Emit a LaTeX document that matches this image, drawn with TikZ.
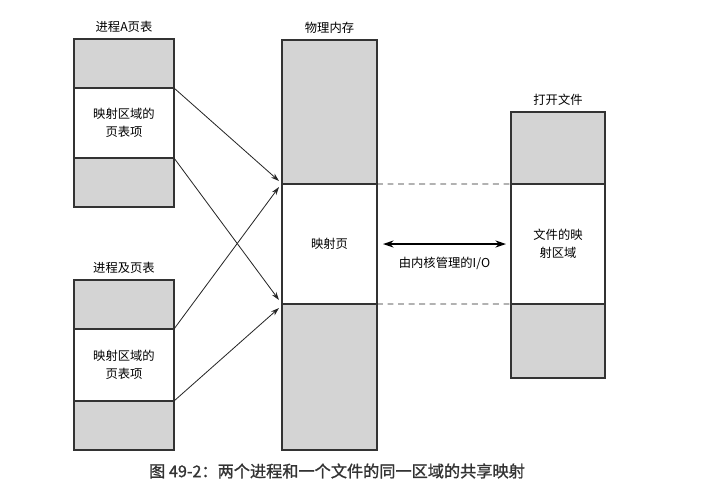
\documentclass[tikz,border=0pt]{standalone}
\usepackage{fontspec}
\setmainfont{Noto Sans CJK SC}
\newfontfamily\capfont[FakeBold=1.2]{Noto Sans CJK SC}
\usetikzlibrary{arrows.meta,positioning,calc}

\begin{document}
\begin{tikzpicture}[x=0.03cm,y=-0.03cm,
  seg/.style={draw=black!80,line width=1pt,outer sep=0pt,inner sep=0pt,minimum width=3cm,align=center,font=\fontsize{10.5}{15.5}\selectfont},
  shade/.style={seg,fill=black!17},
  title/.style={font=\fontsize{10.5}{12}\selectfont,inner sep=1pt},
  arr/.style={-{Stealth[length=7pt,width=4.5pt]},line width=0.7pt,black!85},
  ioarr/.style={{Stealth[length=9pt,width=6pt]}-{Stealth[length=9pt,width=6pt]},line width=1.4pt},
  dashline/.style={dashed,dash pattern=on 5pt off 4pt,line width=0.6pt,black!85},
  node distance=0pt
]
\useasboundingbox (0,0) rectangle (709,500);

% process A
\node[shade,minimum height=1.47cm,anchor=north] (pa1) at (124,39) {};
\node[seg,minimum height=2.1cm,below=of pa1] (pa2) {映射区域的\\页表项};
\node[shade,minimum height=1.47cm,below=of pa2] (pa3) {};
\node[title,above=1.6mm of pa1] (ta) {进程A页表};

% process B
\node[shade,minimum height=1.47cm,anchor=north] (pb1) at (124,280) {};
\node[seg,minimum height=2.16cm,below=of pb1] (pb2) {映射区域的\\页表项};
\node[shade,minimum height=1.47cm,below=of pb2] (pb3) {};
\node[title,above=1.6mm of pb1] (tb) {进程及页表};

% physical memory
\node[shade,minimum width=2.85cm,minimum height=4.32cm,anchor=north] (pm1) at (329.5,40) {};
\node[seg,minimum width=2.85cm,minimum height=3.6cm,below=of pm1] (pm2) {映射页};
\node[shade,minimum width=2.85cm,minimum height=4.38cm,below=of pm2] (pm3) {};
\node[title,above=1.6mm of pm1] (tm) {物理内存};

% open file
\node[shade,minimum width=2.82cm,minimum height=2.16cm,anchor=north] (pf1) at (558,112) {};
\node[seg,minimum width=2.82cm,minimum height=3.6cm,below=of pf1] (pf2) {文件的映\\射区域};
\node[shade,minimum width=2.82cm,minimum height=2.22cm,below=of pf2] (pf3) {};
\node[title,above=1.6mm of pf1] (tf) {打开文件};

\draw[arr] (pa2.north east) -- ([shift={(-3,-3)}]pm2.north west);
\draw[arr] (pa2.south east) -- ([shift={(-3,-4)}]pm2.south west);
\draw[arr] (pb2.north east) -- ([shift={(-3,3)}]pm2.north west);
\draw[arr] (pb2.south east) -- ([shift={(-3,4)}]pm2.south west);

\draw[dashline] (pm2.north east) -- (pf2.north west);
\draw[dashline] (pm2.south east) -- (pf2.south west);

\coordinate (iol) at ($(pm2.east)+(6,0)$);
\coordinate (ior) at ($(pf2.west)+(-5,0)$);
\draw[ioarr] (iol) -- (ior) node[midway,below=2.5mm,font=\fontsize{10.5}{12}\selectfont] (io) {由内核管理的I/O};

\node[font=\capfont\fontsize{13.8}{16}\selectfont,text=black!80] (cap) at (337,471) {图 49-2：两个进程和一个文件的同一区域的共享映射};
\end{tikzpicture}
\end{document}
